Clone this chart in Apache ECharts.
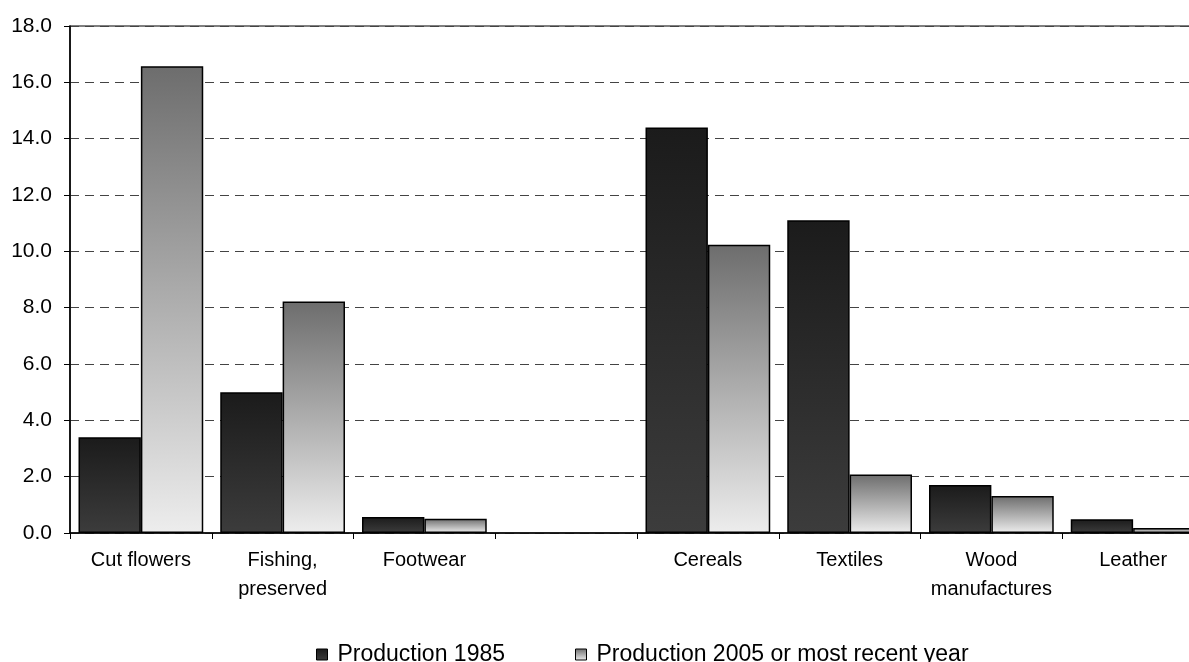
<!DOCTYPE html>
<html>
<head>
<meta charset="utf-8">
<title>Production shares, 1985 vs 2005</title>
<script src="https://cdn.jsdelivr.net/npm/echarts@6/dist/echarts.min.js"></script>
<style>
  html, body { margin: 0; padding: 0; background: #fff; overflow: hidden; }
  #chart { width: 1189px; height: 662px; }
</style>
</head>
<body>
<div id="chart"></div>
<script>
// Product groups (an empty slot separates the two groups)
var categories = ['Cut flowers', 'Fishing,\npreserved', 'Footwear', '', 'Cereals', 'Textiles', 'Wood\nmanufactures', 'Leather'];
var seriesNames = ['Production 1985', 'Production 2005 or most recent year'];
var production1985 = [3.4, 5.0, 0.57, null, 14.4, 11.1, 1.7, 0.49];
var production2005 = [16.57, 8.22, 0.51, null, 10.23, 2.08, 1.31, 0.18];
var yTicks = { min: 0, max: 18, step: 2 };

var font = '"Liberation Sans", Arial, sans-serif';

function barFill(top, bottom) {
  return new echarts.graphic.LinearGradient(0, 0, 0, 1, [
    { offset: 0, color: top },
    { offset: 1, color: bottom }
  ]);
}
var fill1985 = barFill('#1b1b1b', '#3c3c3c');
var fill2005 = barFill('#6d6d6d', '#ededed');

var chart = echarts.init(document.getElementById('chart'), null, { renderer: 'canvas' });
chart.setOption({
  animation: false,
  backgroundColor: '#ffffff',
  textStyle: { fontFamily: font, color: '#000' },
  // the plot runs a little past the right edge of the canvas
  grid: {
    left: 70, width: 1134, top: 26, bottom: 129,
    outerBoundsMode: 'none', containLabel: false,
    show: true, borderColor: '#000', borderWidth: 1.2, backgroundColor: 'transparent'
  },
  legend: {
    left: 311, top: 638,
    itemWidth: 11, itemHeight: 11, itemGap: 70,
    icon: 'rect',
    textStyle: { fontFamily: font, fontSize: 23, color: '#000', padding: [0, 0, 0, 5] },
    data: [
      { name: seriesNames[0], itemStyle: { color: fill1985, borderColor: '#000', borderWidth: 1 } },
      { name: seriesNames[1], itemStyle: { color: fill2005, borderColor: '#000', borderWidth: 1 } }
    ]
  },
  xAxis: {
    type: 'category',
    data: categories,
    axisLine: { show: true, lineStyle: { color: '#000', width: 1.5 } },
    axisTick: { show: true, length: 6, lineStyle: { color: '#000' } },
    axisLabel: { fontFamily: font, fontSize: 20, color: '#000', margin: 13, lineHeight: 29, interval: 0 },
    splitLine: { show: false }
  },
  yAxis: {
    type: 'value',
    min: yTicks.min, max: yTicks.max, interval: yTicks.step,
    axisLine: { show: true, lineStyle: { color: '#000', width: 1.5 } },
    axisTick: { show: true, length: 6, lineStyle: { color: '#000' } },
    axisLabel: {
      fontFamily: font, fontSize: 21, color: '#000', margin: 18,
      formatter: function (v) { return v.toFixed(1); }
    },
    splitLine: { show: true, lineStyle: { color: '#444', type: [9, 6], width: 1 } }
  },
  series: [
    {
      name: seriesNames[0], type: 'bar', data: production1985,
      barGap: '0%', barCategoryGap: '12%',
      itemStyle: { color: fill1985, borderColor: '#000', borderWidth: 1.5 }
    },
    {
      name: seriesNames[1], type: 'bar', data: production2005,
      barGap: '0%', barCategoryGap: '12%',
      itemStyle: { color: fill2005, borderColor: '#000', borderWidth: 1.5 }
    }
  ]
});
</script>
</body>
</html>
